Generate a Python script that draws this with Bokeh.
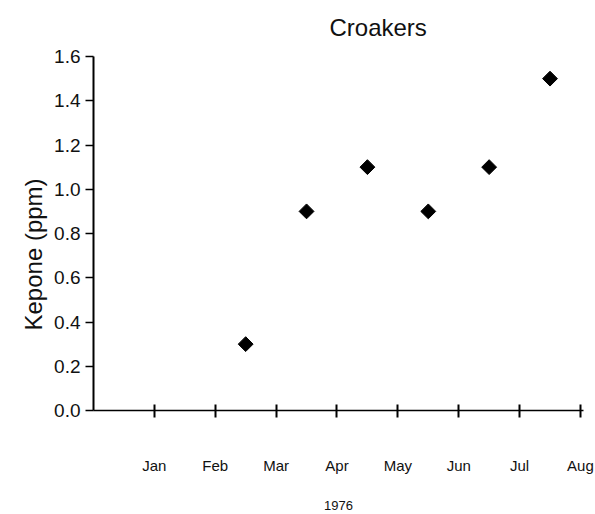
import math
from bokeh.plotting import figure
from bokeh.models import Range1d, FixedTicker, ColumnDataSource, Title
from bokeh.embed import file_html
from bokeh.resources import INLINE

# Data
month_labels = ["Jan", "Feb", "Mar", "Apr", "May", "Jun", "Jul", "Aug"]
month_ticks = [1, 2, 3, 4, 5, 6, 7, 8]
sample_month = [2.5, 3.5, 4.5, 5.5, 6.5, 7.5]   # mid-Feb .. mid-Jul
kepone_ppm = [0.3, 0.9, 1.1, 0.9, 1.1, 1.5]
y_ticks = [0.0, 0.2, 0.4, 0.6, 0.8, 1.0, 1.2, 1.4, 1.6]

FONT = "Liberation Sans"
INK = "#111111"

p = figure(width=595, height=514, output_backend="svg", toolbar_location=None,
           x_range=Range1d(0, 8.05), y_range=Range1d(0, 1.6),
           min_border_left=93, min_border_right=12, min_border_top=56,
           min_border_bottom=104, title="Croakers")

p.title.text_font = FONT
p.title.text_font_size = "24px"
p.title.text_font_style = "normal"
p.title.align = "left"
p.title.offset = 236
p.title.standoff = 27
p.title.vertical_align = "top"
p.title.text_color = INK

src = ColumnDataSource(dict(x=sample_month, y=kepone_ppm))
p.scatter("x", "y", source=src, marker="square", angle=math.pi / 4, size=10.5,
          fill_color="black", line_color="black")

p.outline_line_color = None
p.grid.visible = False
p.background_fill_color = "white"
p.border_fill_color = "white"

# x axis
xa = p.xaxis[0]
xa.ticker = FixedTicker(ticks=month_ticks)
xa.major_label_overrides = {t: lab for t, lab in zip(month_ticks, month_labels)}
xa.major_tick_in = 6
xa.major_tick_out = 7
xa.minor_tick_in = 0
xa.minor_tick_out = 0
xa.major_label_standoff = 39
xa.major_label_text_font = FONT
xa.major_label_text_font_size = "15px"
xa.major_label_text_color = INK
xa.axis_label = "1976"
xa.axis_label_text_font = FONT
xa.axis_label_text_font_size = "13px"
xa.axis_label_text_font_style = "normal"
xa.axis_label_text_color = INK
xa.axis_label_standoff = 24
xa.axis_line_width = 1.5
xa.major_tick_line_width = 2

# y axis
ya = p.yaxis[0]
ya.ticker = FixedTicker(ticks=y_ticks)
ya.major_label_overrides = {t: f"{t:.1f}" for t in y_ticks}
ya.major_tick_in = 0
ya.major_tick_out = 8
ya.minor_tick_in = 0
ya.minor_tick_out = 0
ya.major_label_standoff = 5
ya.major_label_text_font = FONT
ya.major_label_text_font_size = "19px"
ya.major_label_text_color = INK
ya.axis_line_width = 2
ya.major_tick_line_width = 1.5

# y-axis title as a side title, placed a little below the frame centre
ytitle = Title(text="Kepone (ppm)", align="left", offset=80,
               text_font=FONT, text_font_size="24px", text_font_style="normal",
               text_color=INK, standoff=10)
p.add_layout(ytitle, "left")

open("out.html", "w").write(file_html(p, INLINE))
